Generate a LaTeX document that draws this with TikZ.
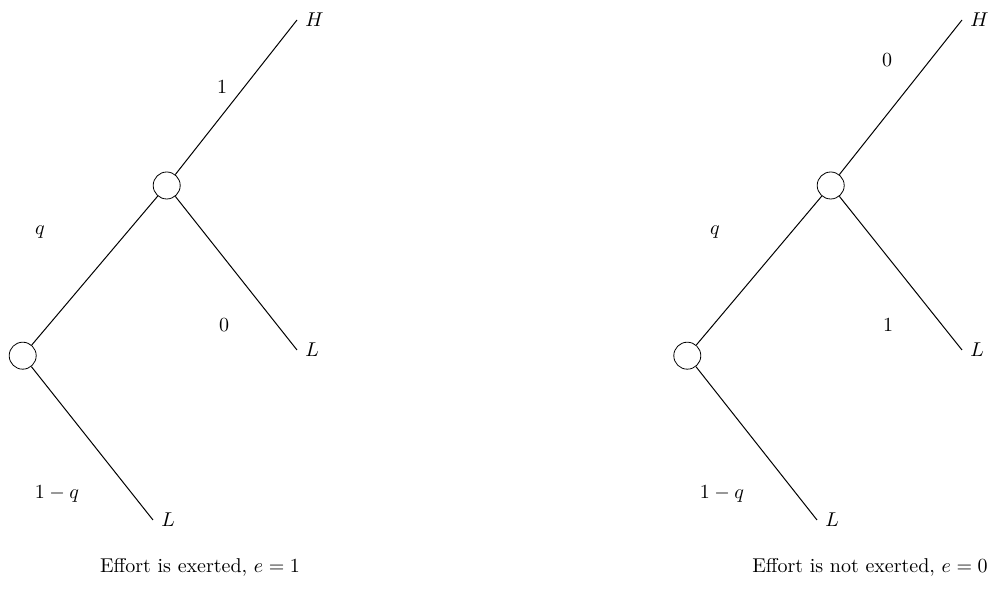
\documentclass[tikz,border=0pt]{standalone}
\begin{document}
\begin{tikzpicture}[x=0.5pt,y=-0.5pt,
  chance/.style={draw,circle,minimum size=13.5pt,inner sep=0pt},
  leaf/.style={anchor=west,inner sep=4pt},
  lbl/.style={inner sep=0pt},
  edge/.style={draw,line width=0.5pt}]
\useasboundingbox (0,0) rectangle (997,597);
% left tree
\node[chance] (r1) at (22.7,355.7) {};
\node[chance] (m1) at (166.7,185.5) {};
\node[leaf] (h1) at (297,20) {$H$};
\node[leaf] (l1) at (297,350) {$L$};
\node[leaf] (ll1) at (153,520) {$L$};
\path[edge] (r1) -- (m1);
\path[edge] (m1) -- (h1.west);
\path[edge] (m1) -- (l1.west);
\path[edge] (r1) -- (ll1.west);
\node[lbl] (a1) at (222,87) {$1$};
\node[lbl] (b1) at (40,232) {$q$};
\node[lbl] (c1) at (224,325) {$0$};
\node[lbl] (d1) at (57,494) {$1-q$};
\node[lbl] (cap1) at (200,567) {Effort is exerted, $e=1$};
% right tree
\node[chance] (r2) at (687.3,355.7) {};
\node[chance] (m2) at (830.7,185.5) {};
\node[leaf] (h2) at (962,20) {$H$};
\node[leaf] (l2) at (962,350) {$L$};
\node[leaf] (ll2) at (817,520) {$L$};
\path[edge] (r2) -- (m2);
\path[edge] (m2) -- (h2.west);
\path[edge] (m2) -- (l2.west);
\path[edge] (r2) -- (ll2.west);
\node[lbl] (a2) at (887,60) {$0$};
\node[lbl] (b2) at (715,232) {$q$};
\node[lbl] (c2) at (888,325) {$1$};
\node[lbl] (d2) at (722,494) {$1-q$};
\node[lbl] (cap2) at (870,567) {Effort is not exerted, $e=0$};
\end{tikzpicture}
\end{document}
